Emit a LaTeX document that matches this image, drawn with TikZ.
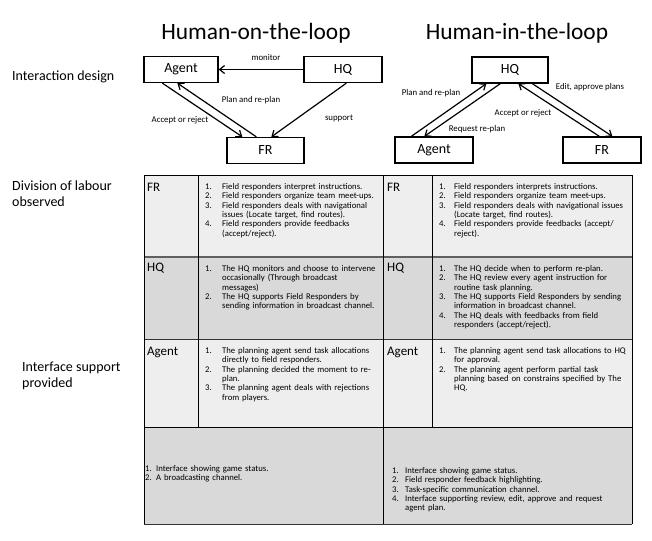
\documentclass[tikz,border=0pt]{standalone}
\usepackage{fontspec}
\setmainfont{Carlito}
\usetikzlibrary{arrows.meta}
\definecolor{lightcell}{HTML}{EEEEEE}
\definecolor{darkcell}{HTML}{D9D9D9}
\newcommand\itm[3][17pt]{\par\noindent\hangindent=#1\hangafter=1\makebox[#1][l]{#2.}#3\par}
\tikzset{
  box/.style={draw, line width=1.3pt, minimum width=#1, minimum height=26pt, inner sep=0pt, font=\fontsize{14}{16}\selectfont},
  box/.default=76pt,
  arr/.style={line width=1.2pt, -{Straight Barb[length=5pt,width=8pt]}},
  lbl/.style={font=\fontsize{8.8}{10}\selectfont, inner sep=0pt},
  title/.style={font=\fontsize{23.4}{27}\selectfont, inner sep=0pt},
  rowlbl/.style={font=\fontsize{14}{16}\selectfont, inner sep=0pt, anchor=north west, align=left},
  celllbl/.style={font=\fontsize{13}{15}\selectfont, inner sep=0pt, anchor=west},
  celltext/.style={font=\fontsize{8.7}{9.3}\selectfont, inner sep=0pt, anchor=north west, align=left, text width=#1},
}
\begin{document}
\begin{tikzpicture}[x=1pt,y=1pt]
\useasboundingbox (0,0) rectangle (652,-540);
% titles
\node[title] (t1) at (256,-33) {Human-on-the-loop};
\node[title] (t2) at (517,-33) {Human-in-the-loop};
% row labels
\node[rowlbl] (r1) at (12,-71) {Interaction design};
\node[rowlbl] (r2) at (12,-181) {Division of labour\\observed};
\node[rowlbl] (r3) at (22,-362) {Interface support\\provided};
% left diagram
\node[box=74pt] (agL) at (181,-69.5) {Agent};
\node[box=78pt] (hqL) at (343,-69.5) {HQ};
\node[box=77pt] (frL) at (265.5,-150.5) {FR};
\draw[arr] (hqL.west) -- (agL.east);
\draw[arr] ([xshift=19pt]agL.south west) -- ([xshift=16pt]frL.north west);
\draw[arr] ([xshift=30pt]frL.north west) -- ([xshift=34pt]agL.south west);
\draw[arr] ([xshift=43pt]hqL.south west) -- ([xshift=45pt]frL.north west);
\node[lbl] (l1) at (266,-58) {monitor};
\node[lbl] (l2) at (251,-100) {Plan and re-plan};
\node[lbl] (l3) at (180,-120) {Accept or reject};
\node[lbl] (l4) at (339,-118) {support};
% right diagram
\node[box=76pt] (hqR) at (510,-70) {HQ};
\node[box=78pt] (agR) at (434,-150) {Agent};
\node[box=78pt] (frR) at (602,-150) {FR};
\draw[arr] ([xshift=17pt]agR.north west) -- ([xshift=15pt]hqR.south west);
\draw[arr] ([xshift=29pt]hqR.south west) -- ([xshift=30pt]agR.north west);
\draw[arr] ([xshift=37pt]frR.north west) -- ([xshift=47pt]hqR.south west);
\draw[arr] ([xshift=61pt]hqR.south west) -- ([xshift=50pt]frR.north west);
\node[lbl] (l5) at (431,-93) {Plan and re-plan};
\node[lbl] (l6) at (477,-129) {Request re-plan};
\node[lbl] (l7) at (523,-113) {Accept or reject};
\node[lbl] (l8) at (590,-87) {Edit, approve plans};
% table fills
\fill[lightcell] (144,-175) rectangle (632,-257);
\fill[darkcell] (144,-257) rectangle (632,-339);
\fill[lightcell] (144,-339) rectangle (632,-427);
\fill[darkcell] (144,-427) rectangle (632,-524);
% table lines
\draw[gray!75!black, line width=1.3pt] (144,-257) -- (632,-257);
\draw[black!80, line width=0.9pt] (144,-339) -- (632,-339);
\draw[black, line width=0.8pt] (144,-175) -- (632,-175);
\draw[black, line width=0.8pt] (144,-427) -- (632,-427);
\draw[black!80, line width=0.8pt] (144,-524) -- (632,-524);
\foreach \xx in {144,383,632} \draw[black, line width=0.8pt] (\xx,-175) -- (\xx,-524);
\foreach \xx in {198,432} \draw[black, line width=0.8pt] (\xx,-175) -- (\xx,-427);
% cell labels
\node[celllbl] (c1) at (147,-187) {FR};
\node[celllbl] (c2) at (147,-268) {HQ};
\node[celllbl] (c3) at (147,-352) {Agent};
\node[celllbl] (c4) at (387,-187) {FR};
\node[celllbl] (c5) at (387,-268) {HQ};
\node[celllbl] (c6) at (387,-352) {Agent};
% cell texts left
\node[celltext=200pt] (x1) at (205,-180) {%
\itm{1}{Field responders interpret instructions.}%
\itm{2}{Field responders organize team meet-ups.}%
\itm{3}{Field responders deals with navigational\newline issues (Locate target, find routes).}%
\itm{4}{Field responders provide feedbacks\newline (accept/reject).}};
\node[celltext=200pt] (x2) at (205,-262) {%
\itm{1}{The HQ monitors and choose to intervene\newline occasionally (Through broadcast\newline messages)}%
\itm{2}{The HQ supports Field Responders by\newline sending information in broadcast channel.}};
\node[celltext=200pt] (x3) at (205,-344) {%
\itm{1}{The planning agent send task allocations\newline directly to field responders.}%
\itm{2}{The planning decided the moment to re-\newline plan.}%
\itm{3}{The planning agent deals with rejections\newline from players.}};
% cell texts right
\node[celltext=200pt] (y1) at (439,-180) {%
\itm[15pt]{1}{Field responders interprets instructions.}%
\itm[15pt]{2}{Field responders organize team meet-ups.}%
\itm[15pt]{3}{Field responders deals with navigational issues\newline (Locate target, find routes).}%
\itm[15pt]{4}{Field responders provide feedbacks (accept/\newline reject).}};
\node[celltext=200pt] (y2) at (439,-262) {%
\itm[15pt]{1}{The HQ decide when to perform re-plan.}%
\itm[15pt]{2}{The HQ review every agent instruction for\newline routine task planning.}%
\itm[15pt]{3}{The HQ supports Field Responders by sending\newline information in broadcast channel.}%
\itm[15pt]{4}{The HQ deals with feedbacks from field\newline responders (accept/reject).}};
\node[celltext=200pt] (y3) at (439,-344) {%
\itm[15pt]{1}{The planning agent send task allocations to HQ\newline for approval.}%
\itm[15pt]{2}{The planning agent perform partial task\newline planning based on constrains specified by The\newline HQ.}};
% bottom row
\node[celltext=230pt] (z1) at (145,-465) {1. Interface showing game status.\par 2. A broadcasting channel.};
\node[celltext=235pt] (z2) at (392,-464) {%
\itm[13pt]{1}{Interface showing game status.}%
\itm[13pt]{2}{Field responder feedback highlighting.}%
\itm[13pt]{3}{Task-specific communication channel.}%
\itm[13pt]{4}{Interface supporting review, edit, approve and request\newline agent plan.}};
\end{tikzpicture}
\end{document}
